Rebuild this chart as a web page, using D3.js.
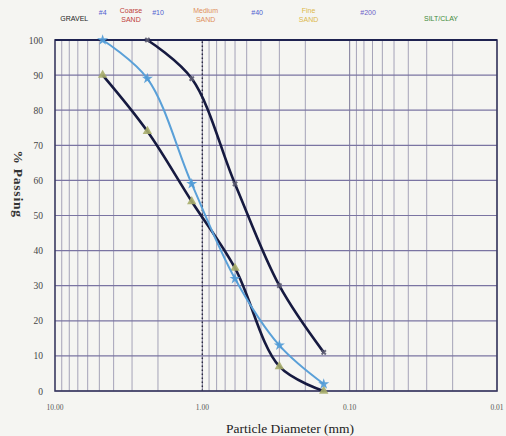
<!DOCTYPE html>
<html>
<head>
<meta charset="utf-8">
<script src="https://cdn.jsdelivr.net/npm/d3@7"></script>
<style>
  html, body { margin: 0; padding: 0; background: #f5f5f2; }
  svg { display: block; }
</style>
</head>
<body>
<div id="chart"></div>
<script>
// sieve openings (mm) and % passing for each sample
const sieveSizes = [4.75, 2.36, 1.18, 0.6, 0.3, 0.15];
const sampleBlue = [100, 89, 59, 32, 13, 2];
const sampleGreen = [90, 74, 54, 35, 7, 0];
const sampleDark = [null, 100, 89, 59, 30, 11];

const yTicks = [0, 10, 20, 30, 40, 50, 60, 70, 80, 90, 100];
const xTicks = [10, 1, 0.1, 0.01];
const xTickLabels = ["10.00", "1.00", "0.10", "0.01"];

// soil class labels along the top
const sieveMarks = [
  { label: ["#4"], d: 4.75, color: "#4f5fd0" },
  { label: ["#10"], d: 2.0, color: "#4f5fd0" },
  { label: ["#40"], d: 0.425, color: "#4f5fd0" },
  { label: ["#200"], d: 0.075, color: "#6a62c8" }
];
const classLabels = [
  { label: ["GRAVEL"], d: 7.4, color: "#222" },
  { label: ["Coarse", "SAND"], d: 3.05, color: "#c0403a" },
  { label: ["Medium", "SAND"], d: 0.95, color: "#e0905a" },
  { label: ["Fine", "SAND"], d: 0.19, color: "#dcb84a" },
  { label: ["SILT/CLAY"], d: 0.024, color: "#3e8a3a" }
];

const width = 506, height = 436;
const margin = { top: 40, right: 9, bottom: 45, left: 55 };

const svg = d3.select("#chart").append("svg")
  .attr("width", width)
  .attr("height", height)
  .style("font-family", "'Liberation Serif', 'DejaVu Serif', serif");

const x = d3.scaleLog()
  .domain([10, 0.01])
  .range([margin.left, width - margin.right]);
const y = d3.scaleLinear()
  .domain([0, 100])
  .range([height - margin.bottom, margin.top]);

// minor vertical grid
const minor = [];
[10, 1, 0.1].forEach(dec => {
  for (let k = 1; k <= 9; k++) minor.push(dec * k / 10);
});
svg.append("g")
  .selectAll("line")
  .data(minor)
  .enter().append("line")
  .attr("x1", d => x(d)).attr("x2", d => x(d))
  .attr("y1", y(0)).attr("y2", y(100))
  .attr("stroke", d => [1, 0.1].includes(+d.toFixed(3)) ? "#7c7898" : "#a5a3b8")
  .attr("stroke-width", 1);

// horizontal grid
svg.append("g")
  .selectAll("line")
  .data(yTicks)
  .enter().append("line")
  .attr("x1", x(10)).attr("x2", x(0.01))
  .attr("y1", d => y(d)).attr("y2", d => y(d))
  .attr("stroke", "#7a74a2")
  .attr("stroke-width", 1.2);

// dotted marker at 1 mm
svg.append("line")
  .attr("x1", x(1)).attr("x2", x(1))
  .attr("y1", y(0)).attr("y2", y(100))
  .attr("stroke", "#2a2a40")
  .attr("stroke-width", 1.4)
  .attr("stroke-dasharray", "1.5,2.5");

// frame
svg.append("rect")
  .attr("x", x(10)).attr("y", y(100))
  .attr("width", x(0.01) - x(10))
  .attr("height", y(0) - y(100))
  .attr("fill", "none")
  .attr("stroke", "#3a3a60")
  .attr("stroke-width", 1.6);
svg.append("line")
  .attr("x1", x(10)).attr("x2", x(0.01))
  .attr("y1", y(100)).attr("y2", y(100))
  .attr("stroke", "#1e2250").attr("stroke-width", 2.2);

// axes labels
svg.append("g")
  .selectAll("text")
  .data(yTicks)
  .enter().append("text")
  .attr("x", 43)
  .attr("y", d => y(d) + 3.5)
  .attr("text-anchor", "end")
  .attr("font-size", 9.5)
  .attr("fill", "#444")
  .text(d => d);

svg.append("g")
  .selectAll("text")
  .data(xTicks)
  .enter().append("text")
  .attr("x", d => x(d))
  .attr("y", 410)
  .attr("text-anchor", "middle")
  .attr("font-size", 7.5)
  .attr("fill", "#555")
  .text((d, i) => xTickLabels[i]);

svg.append("text")
  .attr("x", 290)
  .attr("y", 433)
  .attr("text-anchor", "middle")
  .attr("font-size", 13.5)
  .attr("fill", "#222")
  .text("Particle Diameter (mm)");

svg.append("text")
  .attr("transform", "translate(14,184) rotate(90)")
  .attr("text-anchor", "middle")
  .attr("font-size", 13.5)
  .attr("font-weight", "bold")
  .attr("letter-spacing", 0.8)
  .attr("fill", "#333")
  .text("% Passing");

// top labels
function topLabels(data, yBase) {
  const g = svg.append("g").selectAll("text")
    .data(data)
    .enter().append("text")
    .attr("x", d => x(d.d))
    .attr("y", d => d.label.length > 1 ? yBase[0] : yBase[1])
    .attr("text-anchor", "middle")
    .attr("font-size", 7)
    .attr("fill", d => d.color)
    .style("font-family", "'Liberation Sans', 'DejaVu Sans', sans-serif");
  g.selectAll("tspan")
    .data(d => d.label)
    .enter().append("tspan")
    .attr("x", function () { return d3.select(this.parentNode).attr("x"); })
    .attr("dy", (d, i) => i ? 9 : 0)
    .text(d => d);
}
topLabels(sieveMarks, [14, 15]);
topLabels(classLabels, [13, 21]);

// series
const line = d3.line()
  .defined(d => d[1] != null)
  .x(d => x(d[0]))
  .y(d => y(d[1]))
  .curve(d3.curveCatmullRom.alpha(0.5));

const series = [
  { values: sampleGreen, stroke: "#161a40", width: 2.6, marker: "triangle", mcolor: "#a7ad6a" },
  { values: sampleDark, stroke: "#161a40", width: 2.6, marker: "cross", mcolor: "#5a5a70" },
  { values: sampleBlue, stroke: "#5aa0d8", width: 2, marker: "star", mcolor: "#4f9ad6" }
];

series.forEach(s => {
  const pts = sieveSizes.map((d, i) => [d, s.values[i]]).filter(p => p[1] != null);
  svg.append("path")
    .datum(pts)
    .attr("d", line)
    .attr("fill", "none")
    .attr("stroke", s.stroke)
    .attr("stroke-width", s.width);
  const sym = s.marker === "triangle" ? d3.symbolTriangle
    : s.marker === "star" ? d3.symbolStar : d3.symbolCross;
  svg.append("g").selectAll("path")
    .data(pts)
    .enter().append("path")
    .attr("transform", d => `translate(${x(d[0])},${y(d[1])})` + (s.marker === "cross" ? " rotate(45)" : ""))
    .attr("d", d3.symbol(sym, s.marker === "cross" ? 20 : 38))
    .attr("fill", s.mcolor)
    .attr("opacity", 0.9);
});
</script>
</body>
</html>
